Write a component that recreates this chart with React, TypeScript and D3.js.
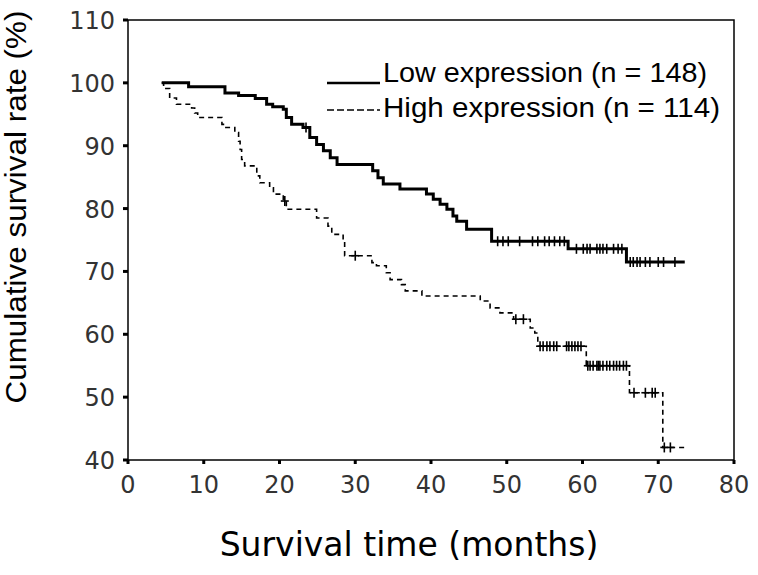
import React, { useEffect, useRef } from "react";
import * as d3 from "d3";

// Kaplan-Meier steps (months, survival %)
const lowTime = [4.45, 8.0, 12.8, 14.6, 16.8, 18.3, 19.1, 20.5, 20.9, 21.6, 23.1, 24.0, 24.9, 25.8, 26.7, 27.6, 32.3, 33.0, 33.7, 35.9, 39.4, 40.3, 41.2, 42.1, 42.9, 43.4, 44.7, 48.0, 58.1, 65.8, 73.5];
const lowSurv = [100, 99.4, 98.4, 98.0, 97.5, 96.6, 96.2, 95.8, 94.5, 93.4, 92.9, 91.3, 90.2, 89.2, 88.1, 87.0, 86.0, 84.9, 83.9, 83.1, 82.3, 81.5, 80.7, 79.9, 78.8, 78.0, 76.7, 74.8, 73.6, 71.5, 71.5];
const lowCensor = [23.5, 48.8, 49.5, 50.2, 51.7, 53.4, 54.1, 55.0, 55.6, 56.3, 57.0, 57.6, 59.2, 60.1, 60.6, 61.0, 61.9, 62.3, 62.7, 63.2, 64.1, 64.7, 65.2, 66.3, 66.7, 67.2, 67.6, 68.3, 68.9, 70.0, 70.7, 72.2];

const highTime = [4.45, 4.7, 5.5, 6.4, 8.4, 8.8, 9.2, 12.4, 12.8, 14.1, 14.6, 14.8, 15.0, 15.4, 17.0, 17.4, 18.7, 19.2, 20.5, 20.9, 24.9, 26.4, 26.9, 28.4, 28.6, 32.2, 32.8, 34.1, 34.6, 36.1, 36.6, 38.8, 46.5, 47.8, 49.1, 50.9, 53.1, 53.7, 54.1, 60.5, 66.2, 70.6, 73.5];
const highSurv = [100, 99.1, 97.6, 96.6, 96.0, 95.2, 94.5, 93.4, 92.9, 92.1, 90.7, 89.4, 87.8, 86.8, 85.2, 84.1, 83.3, 82.3, 81.2, 79.9, 78.5, 77.2, 75.9, 74.8, 72.5, 71.4, 70.9, 69.8, 68.7, 67.9, 66.9, 66.1, 65.3, 64.2, 63.4, 62.4, 61.0, 60.2, 58.1, 55.0, 50.7, 42.0, 42.0];
const highCensor = [20.7, 30.0, 51.2, 52.2, 54.4, 54.8, 55.3, 55.7, 56.2, 56.6, 57.9, 58.2, 58.6, 59.0, 59.4, 59.8, 60.7, 61.0, 61.4, 61.9, 62.1, 62.3, 62.7, 63.2, 63.6, 64.1, 64.5, 64.9, 65.4, 65.8, 66.8, 68.3, 69.2, 69.6, 70.8, 71.6];

const xTicks = [0, 10, 20, 30, 40, 50, 60, 70, 80];
const yTicks = [40, 50, 60, 70, 80, 90, 100, 110];
const legendLabels = ["Low expression (n = 148)", "High expression (n = 114)"];
const legendWidths = [324, 337];

const App = () => {
  const ref = useRef(null);

  useEffect(() => {
    const svg = d3.select(ref.current);
    svg.selectAll("*").remove();

    const x = d3.scaleLinear().domain([0, 80]).range([128, 734]);
    const y = d3.scaleLinear().domain([40, 110]).range([460, 20]);

    const line = d3.line().curve(d3.curveStepAfter)
      .x(d => x(d[0]))
      .y(d => y(d[1]));

    // level of the step curve at time t
    const levelAt = (times, surv, t) => surv[Math.max(0, d3.bisectRight(times, t) - 1)];

    // frame
    svg.append("rect")
      .attr("x", x(0)).attr("y", y(110))
      .attr("width", x(80) - x(0)).attr("height", y(40) - y(110))
      .attr("fill", "none").attr("stroke", "#000").attr("stroke-width", 1.5);

    // ticks
    svg.selectAll(".yt").data(yTicks).enter().append("line")
      .attr("x1", x(0) - 5).attr("x2", x(0))
      .attr("y1", d => y(d)).attr("y2", d => y(d))
      .attr("stroke", "#000").attr("stroke-width", 3);
    svg.selectAll(".xt").data(xTicks).enter().append("line")
      .attr("x1", d => x(d)).attr("x2", d => x(d))
      .attr("y1", y(40)).attr("y2", y(40) + 4)
      .attr("stroke", "#000").attr("stroke-width", 3);

    // tick labels
    svg.selectAll(".yl").data(yTicks).enter().append("text")
      .attr("x", 115).attr("y", d => y(d) + 9)
      .attr("text-anchor", "end")
      .attr("font-family", "DejaVu Sans").attr("font-size", 24)
      .attr("fill", "#333")
      .text(d => d);
    svg.selectAll(".xl").data(xTicks).enter().append("text")
      .attr("x", d => x(d)).attr("y", 493)
      .attr("text-anchor", "middle")
      .attr("font-family", "DejaVu Sans").attr("font-size", 24)
      .attr("fill", "#333")
      .text(d => d);

    // axis titles
    svg.append("text")
      .attr("transform", "translate(26,207) rotate(-90)")
      .attr("text-anchor", "middle")
      .attr("font-family", "Liberation Sans").attr("font-size", 30)
      .attr("textLength", 393).attr("lengthAdjust", "spacingAndGlyphs")
      .text("Cumulative survival rate (%)");
    svg.append("text")
      .attr("x", 409).attr("y", 556)
      .attr("text-anchor", "middle")
      .attr("font-family", "DejaVu Sans").attr("font-size", 33)
      .text("Survival time (months)");

    // curves
    const lowPts = lowTime.map((t, i) => [t, lowSurv[i]]);
    const highPts = highTime.map((t, i) => [t, highSurv[i]]);

    svg.append("path").attr("d", line(highPts))
      .attr("fill", "none").attr("stroke", "#000")
      .attr("stroke-width", 1.6).attr("stroke-dasharray", "5,4");
    svg.append("path").attr("d", line(lowPts))
      .attr("fill", "none").attr("stroke", "#000").attr("stroke-width", 3);

    // censor marks
    svg.selectAll(".lc").data(lowCensor).enter().append("line")
      .attr("x1", d => x(d)).attr("x2", d => x(d))
      .attr("y1", d => y(levelAt(lowTime, lowSurv, d)) - 5)
      .attr("y2", d => y(levelAt(lowTime, lowSurv, d)) + 5)
      .attr("stroke", "#000").attr("stroke-width", 1.6);
    svg.selectAll(".hc").data(highCensor).enter().append("line")
      .attr("x1", d => x(d)).attr("x2", d => x(d))
      .attr("y1", d => y(levelAt(highTime, highSurv, d)) - 5)
      .attr("y2", d => y(levelAt(highTime, highSurv, d)) + 5)
      .attr("stroke", "#000").attr("stroke-width", 1.6);
    // short horizontal stroke through each high censor mark
    svg.selectAll(".hh").data(highCensor).enter().append("line")
      .attr("x1", d => x(d) - 4).attr("x2", d => x(d) + 4)
      .attr("y1", d => y(levelAt(highTime, highSurv, d)))
      .attr("y2", d => y(levelAt(highTime, highSurv, d)))
      .attr("stroke", "#000").attr("stroke-width", 1.6);

    // legend
    const lg = svg.append("g");
    lg.append("line").attr("x1", 327).attr("x2", 380).attr("y1", 83).attr("y2", 83)
      .attr("stroke", "#000").attr("stroke-width", 2.5);
    lg.append("line").attr("x1", 327).attr("x2", 380).attr("y1", 110).attr("y2", 110)
      .attr("stroke", "#000").attr("stroke-width", 1.6).attr("stroke-dasharray", "7,3");
    lg.selectAll("text").data(legendLabels).enter().append("text")
      .attr("x", 383).attr("y", (_, i) => 82 + i * 35)
      .attr("font-family", "Liberation Sans").attr("font-size", 27)
      .attr("textLength", (_, i) => legendWidths[i]).attr("lengthAdjust", "spacingAndGlyphs")
      .text(d => d);
  }, []);

  return (
    <svg ref={ref} width={758} height={575}
      style={{ position: "absolute", left: 0, top: 0, background: "#fff" }} />
  );
};

export default App;
